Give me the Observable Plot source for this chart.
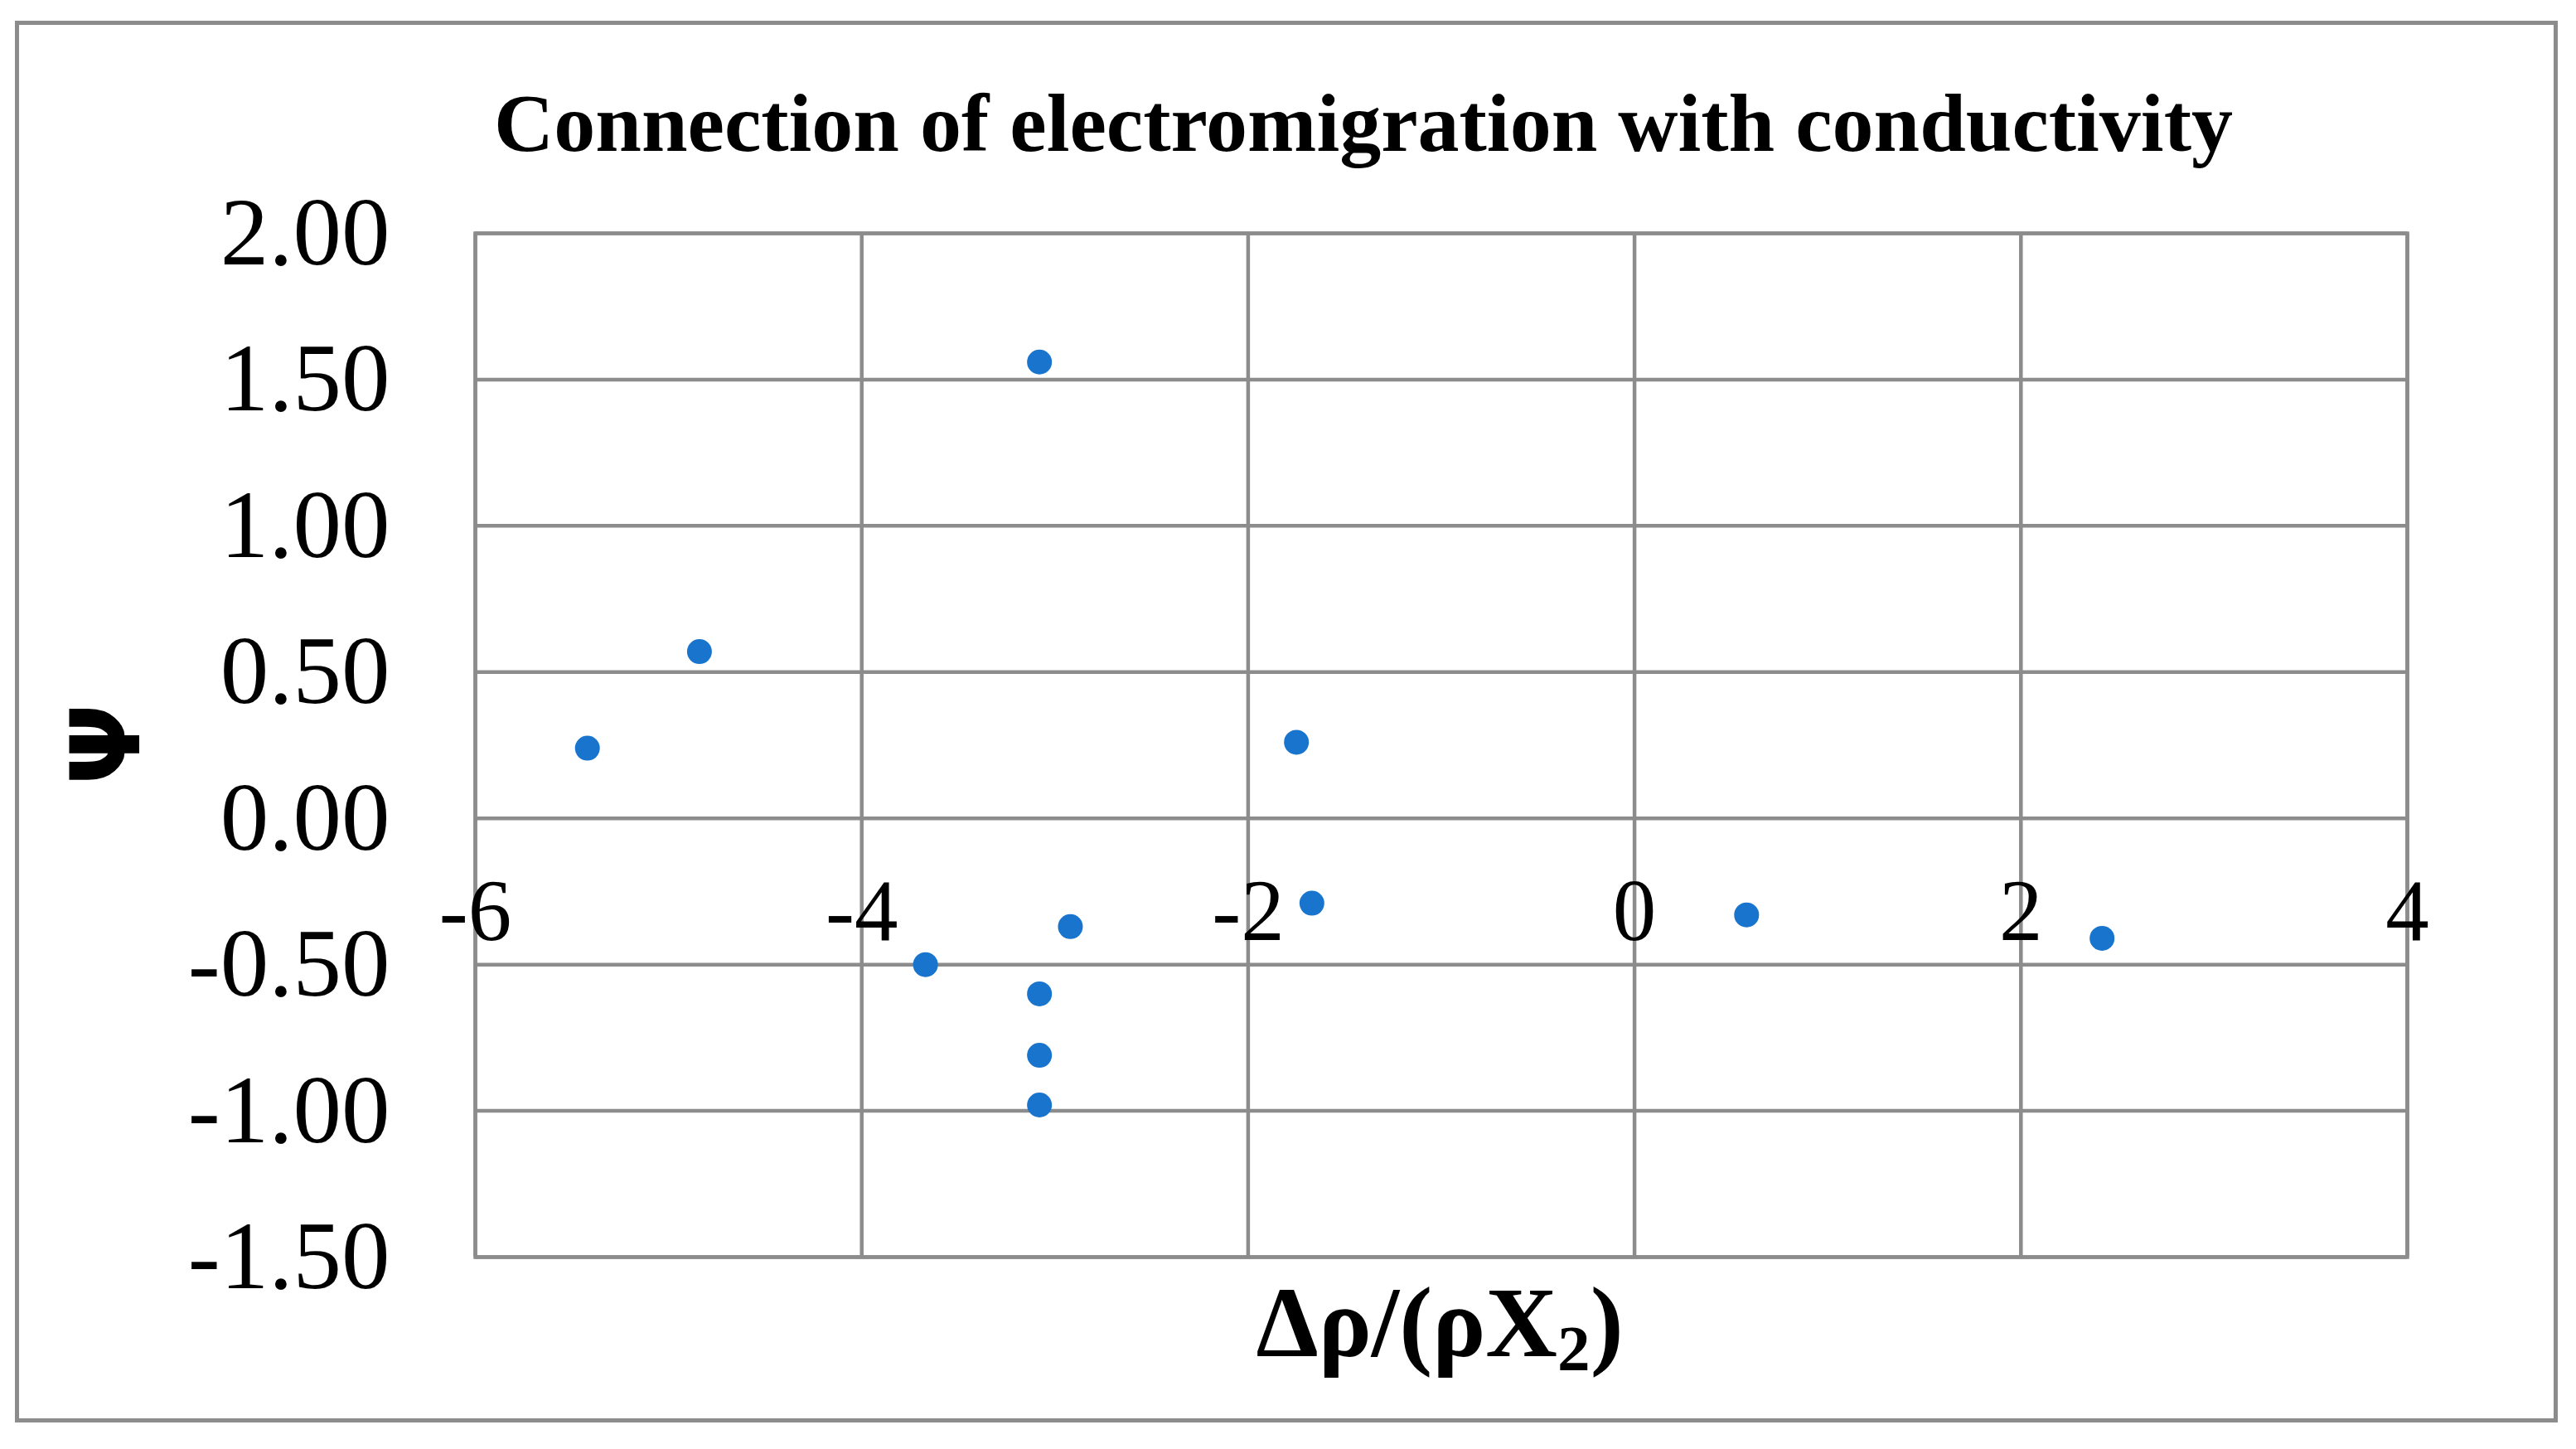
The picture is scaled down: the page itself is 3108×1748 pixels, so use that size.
<!DOCTYPE html>
<html>
<head>
<meta charset="utf-8">
<script src="https://cdn.jsdelivr.net/npm/d3@7"></script>
<script src="https://cdn.jsdelivr.net/npm/@observablehq/plot@0.6"></script>
<style>
  html, body { margin: 0; padding: 0; background: #fff; }
  #chart { position: relative; width: 3108px; height: 1748px; background: #fff; overflow: hidden; }
  #chart svg { position: absolute; left: 0; top: 0; }
  .border { position: absolute; left: 18px; top: 25px; width: 3068px; height: 1691px; border: 5px solid #8c8c8c; box-sizing: border-box; }
  .title { position: absolute; left: 1645px; top: 99px; transform: translateX(-50%); white-space: nowrap;
           font-family: "Liberation Serif", "Times New Roman", serif; font-weight: bold; font-size: 100px; line-height: 1; color: #000; }
  .xlabel { position: absolute; left: 1737px; top: 1536px; transform: translateX(-50%); white-space: nowrap;
            font-family: "Liberation Serif", "Times New Roman", serif; font-weight: bold; font-size: 120px; line-height: 1; color: #000; }
  .xlabel sub { font-size: 0.66em; vertical-align: baseline; position: relative; top: 0.22em; }
  .ylabel { position: absolute; left: 128px; top: 898px; transform: translate(-50%, -50%) rotate(-90deg); white-space: nowrap;
            font-family: "DejaVu Sans", sans-serif; font-weight: bold; font-size: 116px; line-height: 1; color: #000; }
</style>
</head>
<body>
<div id="chart">
  <div class="border"></div>
  <div class="title">Connection of electromigration with conductivity</div>
  <div class="xlabel">Δρ/(ρX<sub>2</sub>)</div>
  <div class="ylabel">Ψ</div>
</div>
<script>
// Data
const xValues = [-5.42, -4.84, -3.67, -3.08, -3.08, -3.08, -3.08, -2.92, -1.75, -1.67, 0.58, 2.42];
const yValues = [0.24, 0.57, -0.50, 1.56, -0.60, -0.81, -0.98, -0.37, 0.26, -0.29, -0.33, -0.41];
const xTicks = [-6, -4, -2, 0, 2, 4];
const yTicks = [-1.5, -1.0, -0.5, 0.0, 0.5, 1.0, 1.5, 2.0];

const points = xValues.map((x, i) => ({x, y: yValues[i]}));
const grey = "#8c8c8c";

const svg = Plot.plot({
  width: 3108,
  height: 1748,
  marginLeft: 573,
  marginRight: 204,
  marginTop: 281,
  marginBottom: 232,
  x: {domain: [-6, 4], axis: null},
  y: {domain: [-1.5, 2], axis: null},
  style: {fontFamily: "'Liberation Serif', 'Times New Roman', serif", background: "transparent", color: "#000"},
  marks: [
    Plot.gridX(xTicks, {stroke: grey, strokeOpacity: 1, strokeWidth: 4.5}),
    Plot.gridY(yTicks, {stroke: grey, strokeOpacity: 1, strokeWidth: 4.5}),
    Plot.frame({stroke: grey, strokeWidth: 4.5}),
    Plot.text(yTicks, {y: d => d, frameAnchor: "left", dx: -103, textAnchor: "end",
      text: d => d.toFixed(2), fontSize: 117, fill: "#000"}),
    Plot.text(xTicks, {x: d => d, y: 0, dy: 113, textAnchor: "middle",
      text: d => String(d), fontSize: 105, fill: "#000"}),
    Plot.dot(points, {x: "x", y: "y", r: 15, fill: "#1874CD", stroke: null})
  ]
});
document.getElementById("chart").prepend(svg);
</script>
</body>
</html>
